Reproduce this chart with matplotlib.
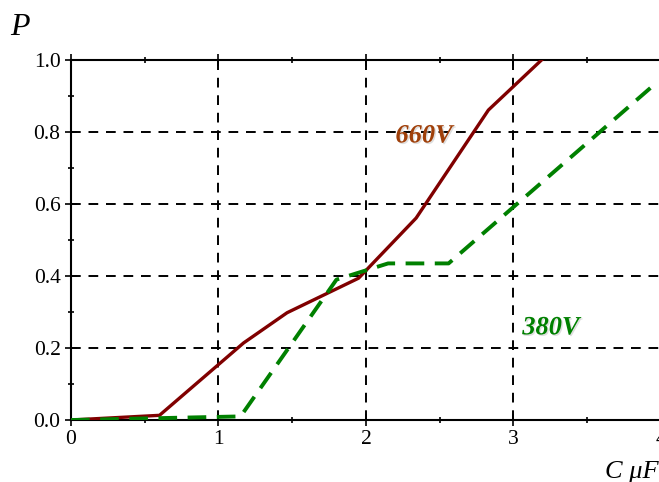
import matplotlib.pyplot as plt
import matplotlib.patheffects as pe
from matplotlib.ticker import MultipleLocator

# capacitance (uF) vs probability P
c_660 = [0.0, 0.6, 1.17, 1.465, 1.95, 2.34, 2.83, 3.19]
p_660 = [0.0, 0.013, 0.214, 0.298, 0.394, 0.561, 0.861, 1.0]

c_380 = [0.0, 1.15, 1.8, 2.15, 2.56, 3.95]
p_380 = [0.0, 0.01, 0.39, 0.435, 0.435, 0.93]

xticks = [0, 1, 2, 3, 4]
yticks = [0.0, 0.2, 0.4, 0.6, 0.8, 1.0]

plt.rcParams['font.family'] = ['Liberation Serif', 'DejaVu Serif']

fig = plt.figure(figsize=(6.59, 4.82), dpi=100)
ax = fig.add_axes([0.1077, 0.1286, 0.8953, 0.7469])

ax.plot(c_660, p_660, color='#800000', lw=2.4, zorder=3)
ax.plot(c_380, p_380, color='#008000', lw=2.8, dashes=(4.8, 2.7), zorder=3)

ax.set_xlim(0, 4)
ax.set_ylim(0, 1)
ax.set_xticks(xticks)
ax.set_yticks(yticks)
ax.set_yticklabels(['%.1f' % v for v in yticks])
ax.xaxis.set_minor_locator(MultipleLocator(0.5))
ax.yaxis.set_minor_locator(MultipleLocator(0.1))
ax.tick_params(which='both', direction='inout', labelsize=15.5, width=1.2, top=True)
ax.tick_params(which='major', length=8)
ax.tick_params(which='minor', length=5)
ax.tick_params(axis='x', pad=3)

ax.grid(True, which='major', color='black', ls=(0, (5, 4)), lw=1.4)
ax.set_axisbelow(True)

for side in ['left', 'bottom', 'top']:
    ax.spines[side].set_linewidth(1.5)
ax.spines['right'].set_visible(False)

shadow = [pe.SimplePatchShadow(offset=(1, -1), shadow_rgbFace='#c8c8c8', alpha=0.6),
          pe.Normal()]
ax.text(2.2, 0.789, '660V', color='#a0400a', fontsize=19, fontweight='bold',
        fontstyle='italic', ha='left', va='center', path_effects=shadow)
ax.text(3.06, 0.256, '380V', color='#008000', fontsize=19, fontweight='bold',
        fontstyle='italic', ha='left', va='center', path_effects=shadow)

fig.text(0.016, 0.928, 'P', fontsize=23, fontstyle='italic')
fig.text(0.918, 0.008, 'C μF', fontsize=19, fontstyle='italic')

fig.savefig('out.png', dpi=100)
